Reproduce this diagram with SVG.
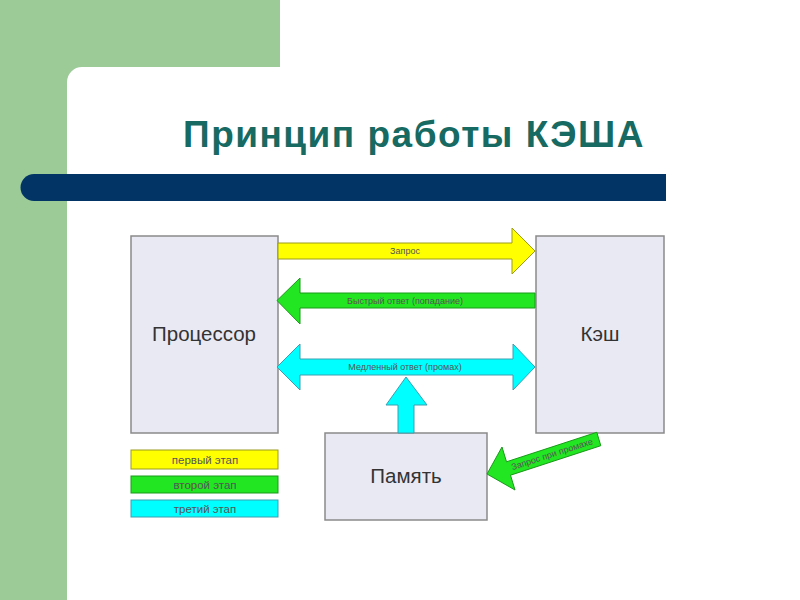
<svg xmlns="http://www.w3.org/2000/svg" width="800" height="600" viewBox="0 0 800 600">
<style>
.box{fill:#e9e9f3;stroke:#8a8a8a;stroke-width:1.5}
.big{font-family:"Liberation Sans",Arial,sans-serif;font-size:20.5px;fill:#333;text-anchor:middle}
.lbl{font-family:"Liberation Sans",Arial,sans-serif;font-size:9px;fill:#555;text-anchor:middle}
.leg{font-family:"Liberation Sans",Arial,sans-serif;font-size:11.5px;fill:#555;text-anchor:middle}
.y{fill:#ffff00;stroke:#9c9c20;stroke-width:1}
.g{fill:#22e622;stroke:#1a9a1a;stroke-width:1}
.c{fill:#00ffff;stroke:#3aa0b0;stroke-width:1}
</style>
<rect width="800" height="600" fill="#ffffff"/>
<g id="background">
<path d="M0 0H280V67H82A15 15 0 0 0 67 82V600H0Z" fill="#9ccb98"/>
<path d="M34 174H666V201H34A13.5 13.5 0 0 1 34 174Z" fill="#033466"/>
<text x="414" y="147" font-family="'Liberation Sans',Arial,sans-serif" font-size="37" font-weight="bold" letter-spacing="1.5" fill="#166a62" text-anchor="middle">Принцип работы КЭША</text>
</g>
<g id="processor">
<rect class="box" x="131" y="236" width="147" height="197"/>
<text class="big" x="204" y="341">Процессор</text>
</g>
<g id="cache">
<rect class="box" x="536" y="236" width="128" height="197"/>
<text class="big" x="600" y="341">Кэш</text>
</g>
<g id="memory">
<rect class="box" x="325" y="433" width="162" height="87"/>
<text class="big" x="406" y="483">Память</text>
</g>
<g id="connectors">
<polygon class="y" points="278,243 512,243 512,228 535,251 512,274 512,259 278,259"/>
<text class="lbl" x="405" y="254">Запрос</text>
<polygon class="g" points="535,293 300,293 300,278 277,300.5 300,324 300,308 535,308"/>
<text class="lbl" x="405" y="303.5">Быстрый ответ (попадание)</text>
<polygon class="c" points="300,359 513,359 513,344 535,367 513,390 513,375 300,375 300,390 277,367 300,344"/>
<text class="lbl" x="405" y="370">Медленный ответ (промах)</text>
<polygon class="c" points="398,433 398,405 386,405 406,377 427,405 414,405 414,433"/>
<polygon class="g" points="487,474 502,447 506.5,461.8 596.8,432.3 600.8,445.7 510.5,475.2 515,490"/>
<text class="lbl" x="0" y="0" transform="translate(553,457) rotate(-18)">Запрос при промахе</text>
</g>
<g id="legend">
<rect class="y" x="131" y="450" width="147" height="19"/>
<text class="leg" x="205" y="463.5">первый этап</text>
<rect class="g" x="131" y="476" width="147" height="17"/>
<text class="leg" x="205" y="488.5">второй этап</text>
<rect class="c" x="131" y="500" width="147" height="17"/>
<text class="leg" x="205" y="512.5">третий этап</text>
</g>
</svg>
